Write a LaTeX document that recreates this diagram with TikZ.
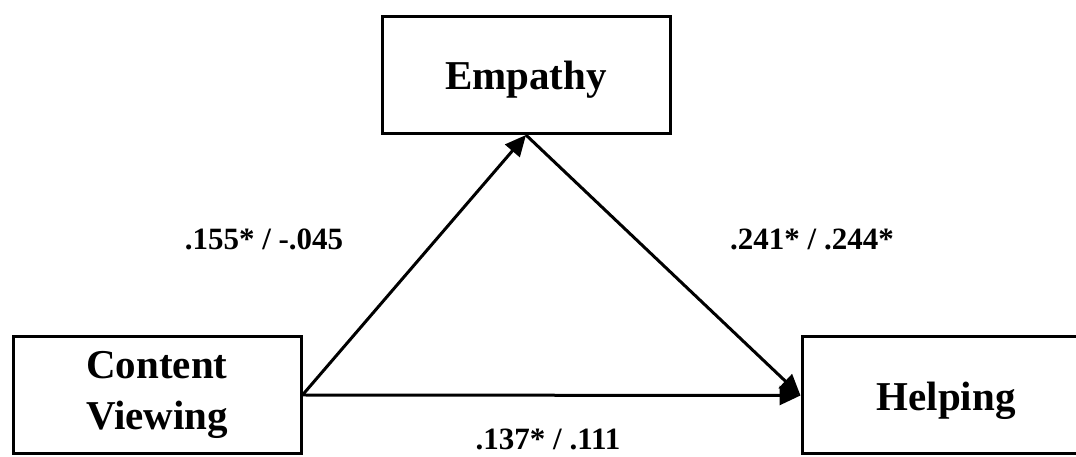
\documentclass[tikz,border=0pt]{standalone}
\usepackage{fontspec}
\setmainfont{Liberation Serif}
\usetikzlibrary{arrows.meta}
\begin{document}
\begin{tikzpicture}[x=1pt,y=1pt,
  box/.style={draw=black, line width=3pt, fill=white, inner sep=0pt,
    minimum width=288pt, minimum height=117pt, align=center,
    font=\fontsize{41}{47}\selectfont\bfseries},
  onebox/.style={box, text height=30pt, text depth=0pt},
  lbl/.style={anchor=base, inner sep=0pt, font=\fontsize{31}{35}\selectfont\bfseries},
  arr/.style={line width=3pt, -{Triangle[length=21pt,width=19pt]}}]
\useasboundingbox (0,0) rectangle (1076,457);
\clip (0,0) rectangle (1076,457);
\fill[white] (0,0) rectangle (1076,457);
\node[box] (cv) at (157,62) {Content\\[4pt]Viewing};
\node[onebox] (emp) at (526,382) {Empathy};
\node[onebox] (help) at (946,61.5) {Helping};
\draw[arr] (cv.east) -- (emp.south);
\draw[arr] (emp.south) -- (help.west);
\draw[arr] (cv.east) -- (help.west);
\node[lbl] (l1) at (264,207) {.155* / -.045};
\node[lbl] (l2) at (812,207) {.241* / .244*};
\node[lbl] (l3) at (548,7) {.137* / .111};
\end{tikzpicture}
\end{document}
